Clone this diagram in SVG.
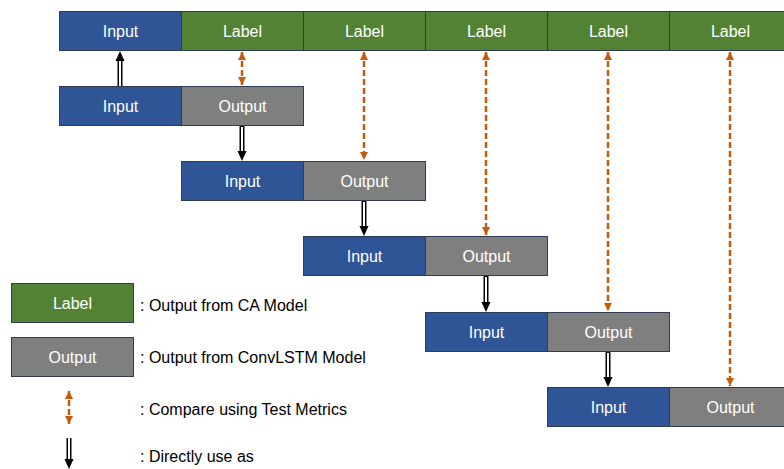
<svg xmlns="http://www.w3.org/2000/svg" width="784" height="469" viewBox="0 0 784 469">
<style>
  .box{stroke:#2E3D55;stroke-width:1}
  .in{fill:#2F5597}
  .lb{fill:#548235}
  .out{fill:#7F7F7F}
  .t{font-family:"Liberation Sans",Arial,sans-serif;font-size:16px;fill:#FFFFFF;text-anchor:middle;dominant-baseline:central}
  .lt{font-family:"Liberation Sans",Arial,sans-serif;font-size:16px;fill:#000000;dominant-baseline:central}
  .cmp{stroke:#C55A11;stroke-width:2.5;stroke-dasharray:6 3;fill:none}
  .dblo{stroke:#000;stroke-width:5;fill:none}
  .dbli{stroke:#FFF;stroke-width:2;fill:none}
</style>
<defs>
  <marker id="oh" viewBox="0 0 8 8" refX="8" refY="4" markerWidth="8" markerHeight="8" markerUnits="userSpaceOnUse" orient="auto-start-reverse">
    <path d="M0,0 L8,4 L0,8 Z" fill="#C55A11"/>
  </marker>
</defs>
<g id="top">
  <g id="top-input"><rect class="box in" x="59.5" y="11.5" width="122" height="39"/><text class="t" x="120.5" y="31">Input</text></g>
  <g id="top-label1"><rect class="box lb" x="181.5" y="11.5" width="122" height="39"/><text class="t" x="242.5" y="31">Label</text></g>
  <g id="top-label2"><rect class="box lb" x="303.5" y="11.5" width="122" height="39"/><text class="t" x="364.5" y="31">Label</text></g>
  <g id="top-label3"><rect class="box lb" x="425.5" y="11.5" width="122" height="39"/><text class="t" x="486.5" y="31">Label</text></g>
  <g id="top-label4"><rect class="box lb" x="547.5" y="11.5" width="122" height="39"/><text class="t" x="608.5" y="31">Label</text></g>
  <g id="top-label5"><rect class="box lb" x="669.5" y="11.5" width="122" height="39"/><text class="t" x="730.5" y="31">Label</text></g>
</g>
<g id="row1">
  <rect class="box in" x="59.5" y="86.5" width="122" height="39"/><text class="t" x="120.5" y="106">Input</text>
  <rect class="box out" x="181.5" y="86.5" width="122" height="39"/><text class="t" x="242.5" y="106">Output</text>
</g>
<g id="row2">
  <rect class="box in" x="181.5" y="161.5" width="122" height="39"/><text class="t" x="242.5" y="181">Input</text>
  <rect class="box out" x="303.5" y="161.5" width="122" height="39"/><text class="t" x="364.5" y="181">Output</text>
</g>
<g id="row3">
  <rect class="box in" x="303.5" y="236.5" width="122" height="39"/><text class="t" x="364.5" y="256">Input</text>
  <rect class="box out" x="425.5" y="236.5" width="122" height="39"/><text class="t" x="486.5" y="256">Output</text>
</g>
<g id="row4">
  <rect class="box in" x="425.5" y="312.5" width="122" height="39"/><text class="t" x="486.5" y="332">Input</text>
  <rect class="box out" x="547.5" y="312.5" width="122" height="39"/><text class="t" x="608.5" y="332">Output</text>
</g>
<g id="row5">
  <rect class="box in" x="547.5" y="387.5" width="122" height="39"/><text class="t" x="608.5" y="407">Input</text>
  <rect class="box out" x="669.5" y="387.5" width="122" height="39"/><text class="t" x="730.5" y="407">Output</text>
</g>
<g id="legend">
  <g id="leg-label"><rect class="box lb" x="11.5" y="283.5" width="122" height="39"/><text class="t" x="72.5" y="303">Label</text></g>
  <text class="lt" x="140" y="305">: Output from CA Model</text>
  <g id="leg-output"><rect class="box out" x="11.5" y="337.5" width="122" height="39"/><text class="t" x="72.5" y="357">Output</text></g>
  <text class="lt" x="140" y="357">: Output from ConvLSTM Model</text>
  <text class="lt" x="140" y="409">: Compare using Test Metrics</text>
  <text class="lt" x="140" y="456">: Directly use as</text>
</g>
<g id="connectors">
  <line class="cmp" x1="242" y1="52" x2="242" y2="85" marker-start="url(#oh)" marker-end="url(#oh)"/>
  <line class="cmp" x1="364" y1="52" x2="364" y2="160" marker-start="url(#oh)" marker-end="url(#oh)"/>
  <line class="cmp" x1="486" y1="52" x2="486" y2="235" marker-start="url(#oh)" marker-end="url(#oh)"/>
  <line class="cmp" x1="608" y1="52" x2="608" y2="311" marker-start="url(#oh)" marker-end="url(#oh)"/>
  <line class="cmp" x1="730" y1="52" x2="730" y2="386" marker-start="url(#oh)" marker-end="url(#oh)"/>
  <line class="cmp" x1="69" y1="391" x2="69" y2="424" marker-start="url(#oh)" marker-end="url(#oh)"/>
  <g id="d0"><line class="dblo" x1="120" y1="86" x2="120" y2="60"/><line class="dbli" x1="120" y1="86" x2="120" y2="60"/><path d="M115.5,61 L124.5,61 L120,51 Z" fill="#000"/></g>
  <g id="d1"><line class="dblo" x1="242" y1="126" x2="242" y2="152"/><line class="dbli" x1="242" y1="127" x2="242" y2="152"/><path d="M237.5,151 L246.5,151 L242,161 Z" fill="#000"/></g>
  <g id="d2"><line class="dblo" x1="364" y1="201" x2="364" y2="227"/><line class="dbli" x1="364" y1="202" x2="364" y2="227"/><path d="M359.5,226 L368.5,226 L364,236 Z" fill="#000"/></g>
  <g id="d3"><line class="dblo" x1="486" y1="276" x2="486" y2="303"/><line class="dbli" x1="486" y1="277" x2="486" y2="303"/><path d="M481.5,302 L490.5,302 L486,312 Z" fill="#000"/></g>
  <g id="d4"><line class="dblo" x1="608" y1="352" x2="608" y2="378"/><line class="dbli" x1="608" y1="353" x2="608" y2="378"/><path d="M603.5,377 L612.5,377 L608,387 Z" fill="#000"/></g>
  <g id="d5"><line class="dblo" x1="69" y1="438" x2="69" y2="460"/><line class="dbli" x1="69" y1="438" x2="69" y2="460"/><path d="M64.5,459 L73.5,459 L69,469 Z" fill="#000"/></g>
</g>
</svg>
